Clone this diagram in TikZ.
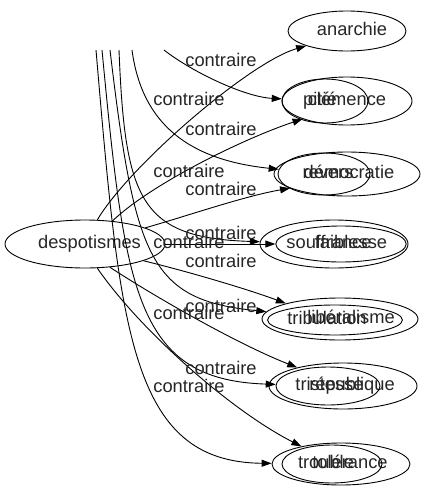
\documentclass[tikz,border=0pt]{standalone}
\usepackage{fontspec}
\setmainfont{Liberation Sans}
\usetikzlibrary{shapes.geometric,arrows.meta}
\begin{document}
\begin{tikzpicture}[x=1pt,y=-1pt,
  every node/.style={font=\fontsize{18.3}{20}\selectfont, text=black!85, text height=13.3pt, text depth=3.9pt},
  ent/.style={ellipse, draw, line width=0.9pt, inner sep=0pt},
  lbl/.style={inner sep=0pt},
  conn/.style={draw, line width=0.9pt, -{Triangle[length=10pt,width=7pt]}}]
\useasboundingbox (0,0) rectangle (426,491);
% nodes
\node[ent, minimum width=160pt, minimum height=48pt] (desp) at (85,244) {\hspace*{9pt}despotismes};
\node[ent, minimum width=118pt, minimum height=40pt] (anarchie) at (347,31) {\hspace*{10pt}anarchie};
\node[ent, minimum width=130pt, minimum height=48pt] (clemence) at (347,101) {clémence};
\node[ent, minimum width=86pt, minimum height=44pt] (pitie) at (325,101) {pitié\hspace*{10pt}};
\node[ent, minimum width=146pt, minimum height=44pt] (democratie) at (347,174) {\hspace*{4pt}démocratie};
\node[ent, minimum width=92pt, minimum height=42pt] (revers) at (324,174) {\hspace*{8pt}revers};
\node[ent, minimum width=148pt, minimum height=48pt] (souffrance) at (334,244) {souffrance\hspace*{10pt}};
\node[ent, minimum width=112pt, minimum height=36pt] (faiblesse) at (341,244) {\hspace*{20pt}faiblesse};
\node[ent, minimum width=156pt, minimum height=42pt] (liberalisme) at (340,319) {\hspace*{22pt}libéralisme};
\node[ent, minimum width=120pt, minimum height=30pt] (tribulation) at (335,320) {tribulation\hspace*{16pt}};
\node[ent, minimum width=148pt, minimum height=46pt] (republique) at (343,386) {\hspace*{18pt}république};
\node[ent, minimum width=104pt, minimum height=38pt] (tristesse) at (328,386) {\hspace*{3pt}tristesse};
\node[ent, minimum width=138pt, minimum height=42pt] (tolerance) at (341,464) {\hspace*{18pt}tolérance};
\node[ent, minimum width=100pt, minimum height=38pt] (trouble) at (332,464) {trouble\hspace*{12pt}};
% free ends at the top edge of the view
\coordinate (t1) at (96,50);
\coordinate (t2) at (102,50);
\coordinate (t3) at (110,50);
\coordinate (t4) at (119,50);
\coordinate (t5) at (132,50);
\coordinate (t6) at (164,50);
% connectors
\draw[conn] (desp.63) .. controls (130,165) and (250,62) .. (anarchie.200);
\draw[conn] (desp.40) .. controls (150,185) and (240,140) .. (clemence.202);
\draw[conn] (desp.15) .. controls (190,215) and (245,196) .. (democratie.194);
\draw[conn] (t6) .. controls (192,72) and (245,97) .. (pitie);
\draw[conn] (t5) .. controls (142,125) and (190,160) .. (revers);
\draw[conn] (t4) .. controls (125,200) and (140,238) .. (souffrance);
\draw[conn] (desp) -- (faiblesse);
\draw[conn] (desp.-16) .. controls (190,272) and (250,290) .. (liberalisme.164);
\draw[conn] (t3) .. controls (135,260) and (150,300) .. (liberalisme);
\draw[conn] (desp.-43) .. controls (160,300) and (240,345) .. (republique.158);
\draw[conn] (t2) .. controls (125,290) and (135,380) .. (tristesse);
\draw[conn] (desp.-63) .. controls (140,330) and (230,410) .. (tolerance.156);
\draw[conn] (t1) .. controls (120,330) and (130,462) .. (tolerance);
% labels
\node[lbl] (l1) at (221,62) {contraire};
\node[lbl] (l2) at (189,101) {contraire};
\node[lbl] (l3) at (221,131) {contraire};
\node[lbl] (l4) at (189,173) {contraire};
\node[lbl] (l5) at (221,191) {contraire};
\node[lbl] (l6) at (221,235) {contraire};
\node[lbl] (l7) at (189,244) {contraire};
\node[lbl] (l8) at (221,263) {contraire};
\node[lbl] (l9) at (221,308) {contraire};
\node[lbl] (l10) at (189,315) {contraire};
\node[lbl] (l11) at (221,370) {contraire};
\node[lbl] (l12) at (189,388) {contraire};
\end{tikzpicture}
\end{document}
